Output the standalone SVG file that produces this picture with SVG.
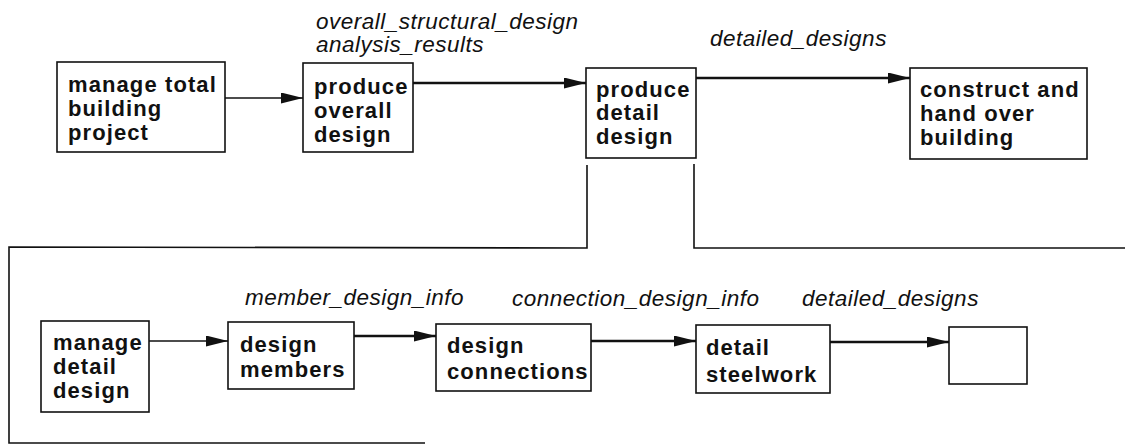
<svg xmlns="http://www.w3.org/2000/svg" width="1125" height="447" viewBox="0 0 1125 447">
  <defs>
    <style>
      .box { fill: #fff; stroke: #111; stroke-width: 1.6; }
      .lbl { font-family: "Liberation Sans", Arial, sans-serif; font-weight: bold; font-size: 22px; letter-spacing: 1.1px; fill: #111; }
      .flow { font-family: "Liberation Sans", Arial, sans-serif; font-style: italic; font-size: 22.5px; letter-spacing: 0.5px; fill: #111; }
      .thin { fill: none; stroke: #111; stroke-width: 1.3; }
      .thick { fill: none; stroke: #111; stroke-width: 2.3; }
      .frame { fill: none; stroke: #111; stroke-width: 1.6; }
    </style>
    <marker id="arrow" markerUnits="userSpaceOnUse" markerWidth="23" markerHeight="12" refX="22" refY="5.5" orient="auto">
      <path d="M0,0 L22,5.5 L0,11 z" fill="#111"/>
    </marker>
  </defs>

  <rect width="1125" height="447" fill="#fff"/>

  <!-- decomposition frame of "produce detail design" -->
  <g id="frame">
    <polyline class="frame" points="587,165 587,248 9,247 9,443 425,443"/>
    <polyline class="frame" points="694,164 694,248 1125,248"/>
  </g>

  <!-- flows -->
  <g id="connectors">
    <line class="thin" x1="225" y1="98" x2="303" y2="98" marker-end="url(#arrow)"/>
    <line class="thick" x1="413" y1="83" x2="586" y2="83" marker-end="url(#arrow)"/>
    <line class="thick" x1="696" y1="78" x2="910" y2="78" marker-end="url(#arrow)"/>
    <line class="thin" x1="149" y1="341" x2="228" y2="341" marker-end="url(#arrow)"/>
    <line class="thick" x1="354" y1="336" x2="436" y2="336" marker-end="url(#arrow)"/>
    <line class="thick" x1="591" y1="341" x2="696" y2="341" marker-end="url(#arrow)"/>
    <line class="thick" x1="830" y1="342" x2="949" y2="342" marker-end="url(#arrow)"/>
  </g>

  <!-- flow labels -->
  <g id="flow-labels">
    <text class="flow" x="316" y="29">overall_structural_design</text>
    <text class="flow" x="316" y="52">analysis_results</text>
    <text class="flow" x="710" y="46">detailed_designs</text>
    <text class="flow" x="245" y="305">member_design_info</text>
    <text class="flow" x="512" y="306">connection_design_info</text>
    <text class="flow" x="802" y="306">detailed_designs</text>
  </g>

  <g id="manage-total-building-project">
    <rect class="box" x="57" y="62" width="168" height="90"/>
    <text class="lbl"><tspan x="68" y="92">manage total</tspan><tspan x="68" y="116">building</tspan><tspan x="68" y="140">project</tspan></text>
  </g>

  <g id="produce-overall-design">
    <rect class="box" x="303" y="63" width="110" height="89"/>
    <text class="lbl"><tspan x="314" y="94">produce</tspan><tspan x="314" y="118">overall</tspan><tspan x="314" y="142">design</tspan></text>
  </g>

  <g id="produce-detail-design">
    <rect class="box" x="586" y="68" width="110" height="90"/>
    <text class="lbl"><tspan x="596" y="97">produce</tspan><tspan x="596" y="120">detail</tspan><tspan x="596" y="144">design</tspan></text>
  </g>

  <g id="construct-and-hand-over-building">
    <rect class="box" x="910" y="68" width="177" height="91"/>
    <text class="lbl"><tspan x="920" y="97">construct and</tspan><tspan x="920" y="121">hand over</tspan><tspan x="920" y="145">building</tspan></text>
  </g>

  <g id="manage-detail-design">
    <rect class="box" x="41" y="321" width="108" height="91"/>
    <text class="lbl"><tspan x="53" y="350">manage</tspan><tspan x="53" y="374">detail</tspan><tspan x="53" y="398">design</tspan></text>
  </g>

  <g id="design-members">
    <rect class="box" x="228" y="322" width="126" height="67"/>
    <text class="lbl"><tspan x="240" y="352">design</tspan><tspan x="240" y="377">members</tspan></text>
  </g>

  <g id="design-connections">
    <rect class="box" x="436" y="324" width="155" height="67"/>
    <text class="lbl"><tspan x="447" y="353">design</tspan><tspan x="447" y="379">connections</tspan></text>
  </g>

  <g id="detail-steelwork">
    <rect class="box" x="696" y="325" width="134" height="68"/>
    <text class="lbl"><tspan x="706" y="355">detail</tspan><tspan x="706" y="382">steelwork</tspan></text>
  </g>

  <g id="output-store">
    <rect class="box" x="949" y="327" width="78" height="57"/>
  </g>
</svg>
